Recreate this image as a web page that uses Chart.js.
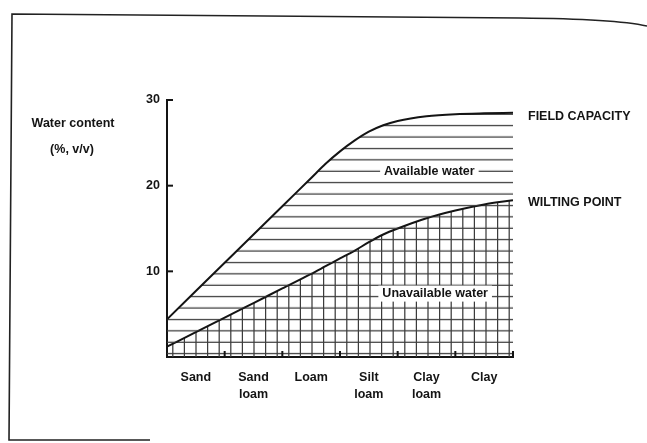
<!DOCTYPE html>
<html><head><meta charset="utf-8">
<style>html,body{margin:0;padding:0;background:#fff;} #wrap{position:relative;width:647px;height:443px;} canvas{display:block;}</style>
<script src="https://cdn.jsdelivr.net/npm/chart.js@4.4.1/dist/chart.umd.min.js"></script>
</head><body><div id="wrap"><canvas id="c" width="647" height="443"></canvas></div>
<script>
// ---- data ----
const categories = [['Sand'], ['Sand', 'loam'], ['Loam'], ['Silt', 'loam'], ['Clay', 'loam'], ['Clay']];
const texturePos = [0, 0.5, 1, 1.5, 2, 2.5, 2.75, 3, 3.25, 3.5, 3.75, 4, 4.5, 5, 5.5, 6];
const fieldCapacity = [4.4, 7.7, 11.0, 14.3, 17.6, 20.9, 22.55, 24.0, 25.25, 26.3, 27.05, 27.55, 28.1, 28.35, 28.45, 28.5];
const wiltingPoint = [1.2, 2.9, 4.6, 6.3, 8.0, 9.7, 10.6, 11.5, 12.4, 13.4, 14.3, 15.0, 16.2, 17.1, 17.8, 18.3];
const yTicks = [10, 20, 30];
const seriesNames = ['FIELD CAPACITY', 'WILTING POINT'];
const regionNames = ['Available water', 'Unavailable water'];
const yTitle = ['Water content', '(%, v/v)'];

// ---- style ----
const INK = '#141414';
const HATCH = '#3c3c3c';
const FONT = 'bold 12.5px "Liberation Sans", Arial, Helvetica, sans-serif';
const HATCH_STEP_Y = 4 / 3, HATCH_Y0 = 0.4;
const HATCH_STEP_X = 0.2, HATCH_X0 = 0.1;

const patternCache = {};
function getPattern(chart, withVertical) {
  const xs = chart.scales.x, ys = chart.scales.y;
  const key = (withVertical ? 'g' : 'h') + chart.chartArea.width + 'x' + chart.chartArea.height;
  if (patternCache[key]) return patternCache[key];
  const hStep = Math.abs(ys.getPixelForValue(0) - ys.getPixelForValue(HATCH_STEP_Y));
  const vStep = Math.abs(xs.getPixelForValue(HATCH_STEP_X) - xs.getPixelForValue(0));
  const H = Math.round(hStep * 5), W = Math.round(vStep * 5);
  const c = document.createElement('canvas'); c.width = W; c.height = H;
  const g = c.getContext('2d');
  g.strokeStyle = HATCH; g.lineWidth = 1.25;
  for (let i = 0; i < 5; i++) {
    const y = i * H / 5 + H / 10;
    g.beginPath(); g.moveTo(0, y); g.lineTo(W, y); g.stroke();
    if (withVertical) {
      const x = i * W / 5 + W / 10;
      g.beginPath(); g.moveTo(x, 0); g.lineTo(x, H); g.stroke();
    }
  }
  const p = chart.ctx.createPattern(c, 'repeat');
  const ox = xs.getPixelForValue(HATCH_X0) - W / 10;
  const oy = ys.getPixelForValue(HATCH_Y0) - H / 10;
  p.setTransform(new DOMMatrix([1, 0, 0, 1, ox, oy]));
  patternCache[key] = p;
  return p;
}

const framePlugin = {
  id: 'frame',
  beforeDraw(chart) {
    const ctx = chart.ctx;
    ctx.save();
    ctx.strokeStyle = '#222'; ctx.lineWidth = 1.6;
    ctx.beginPath();
    ctx.moveTo(150, 440); ctx.lineTo(9, 440); ctx.lineTo(12, 14);
    ctx.lineTo(520, 18); ctx.quadraticCurveTo(615, 19, 647, 26);
    ctx.stroke();
    ctx.restore();
  }
};

const annotatePlugin = {
  id: 'annotate',
  afterDatasetsDraw(chart) {
    const ctx = chart.ctx, xs = chart.scales.x, ys = chart.scales.y, a = chart.chartArea;
    ctx.save();
    ctx.font = FONT; ctx.fillStyle = INK; ctx.textBaseline = 'middle';
    // region labels with white boxes
    const regions = [[regionNames[0], 4.55, 21.7], [regionNames[1], 4.65, 7.4]];
    regions.forEach(([t, u, v]) => {
      const x = xs.getPixelForValue(u), y = ys.getPixelForValue(v);
      const w = ctx.measureText(t).width;
      ctx.fillStyle = '#fff';
      ctx.fillRect(x - w / 2 - 4, y - 8, w + 8, 16);
      ctx.fillStyle = INK; ctx.textAlign = 'center';
      ctx.fillText(t, x, y);
    });
    // series labels at the right
    ctx.textAlign = 'left';
    const last = [fieldCapacity[fieldCapacity.length - 1], wiltingPoint[wiltingPoint.length - 1]];
    const off = [3.5, 2];
    seriesNames.forEach((t, i) => {
      ctx.fillText(t, a.right + 15, ys.getPixelForValue(last[i]) + off[i]);
    });
    // y title
    ctx.textAlign = 'center';
    ctx.fillText(yTitle[0], 73, 124);
    ctx.fillText(yTitle[1], 72, 150);
    // inward tick marks
    ctx.strokeStyle = INK; ctx.lineWidth = 2;
    yTicks.forEach(v => {
      const y = ys.getPixelForValue(v);
      ctx.beginPath(); ctx.moveTo(a.left, y); ctx.lineTo(a.left + 6, y); ctx.stroke();
    });
    for (let i = 1; i <= categories.length; i++) {
      const x = xs.getPixelForValue(i);
      ctx.beginPath(); ctx.moveTo(x, a.bottom); ctx.lineTo(x, a.bottom - 6); ctx.stroke();
    }
    ctx.restore();
  }
};

new Chart(document.getElementById('c'), {
  type: 'line',
  data: {
    datasets: [
      {
        label: seriesNames[0],
        data: texturePos.map((x, i) => ({ x, y: fieldCapacity[i] })),
        borderColor: INK, borderWidth: 2, pointRadius: 0,
        cubicInterpolationMode: 'monotone',
        fill: '+1',
        backgroundColor: (ctx) => ctx.chart.chartArea ? getPattern(ctx.chart, false) : 'rgba(0,0,0,0)'
      },
      {
        label: seriesNames[1],
        data: texturePos.map((x, i) => ({ x, y: wiltingPoint[i] })),
        borderColor: INK, borderWidth: 2, pointRadius: 0,
        cubicInterpolationMode: 'monotone',
        fill: 'origin',
        backgroundColor: (ctx) => ctx.chart.chartArea ? getPattern(ctx.chart, true) : 'rgba(0,0,0,0)'
      }
    ]
  },
  options: {
    responsive: false, animation: false,
    layout: { padding: { left: 137, right: 134, top: 100, bottom: 0 } },
    plugins: { legend: { display: false }, tooltip: { enabled: false } },
    scales: {
      x: {
        type: 'linear', min: 0, max: categories.length,
        afterBuildTicks: s => { s.ticks = categories.map((c, i) => ({ value: i + 0.5 })); },
        afterFit: s => { s.height = 86; },
        ticks: {
          autoSkip: false, maxRotation: 0, padding: 12,
          callback: (v, i) => categories[i],
          font: { family: '"Liberation Sans", Arial, sans-serif', size: 12.5, weight: 'bold', lineHeight: 1.35 },
          color: INK
        },
        grid: { display: false, drawTicks: false },
        border: { display: true, color: INK, width: 2 }
      },
      y: {
        min: 0, max: 30,
        afterBuildTicks: s => { s.ticks = yTicks.map(v => ({ value: v })); },
        afterFit: s => { s.width = 30; },
        ticks: {
          padding: 7,
          font: { family: '"Liberation Sans", Arial, sans-serif', size: 12.5, weight: 'bold' },
          color: INK
        },
        grid: { display: false, drawTicks: false },
        border: { display: true, color: INK, width: 2 }
      }
    }
  },
  plugins: [framePlugin, annotatePlugin]
});
</script></body></html>
